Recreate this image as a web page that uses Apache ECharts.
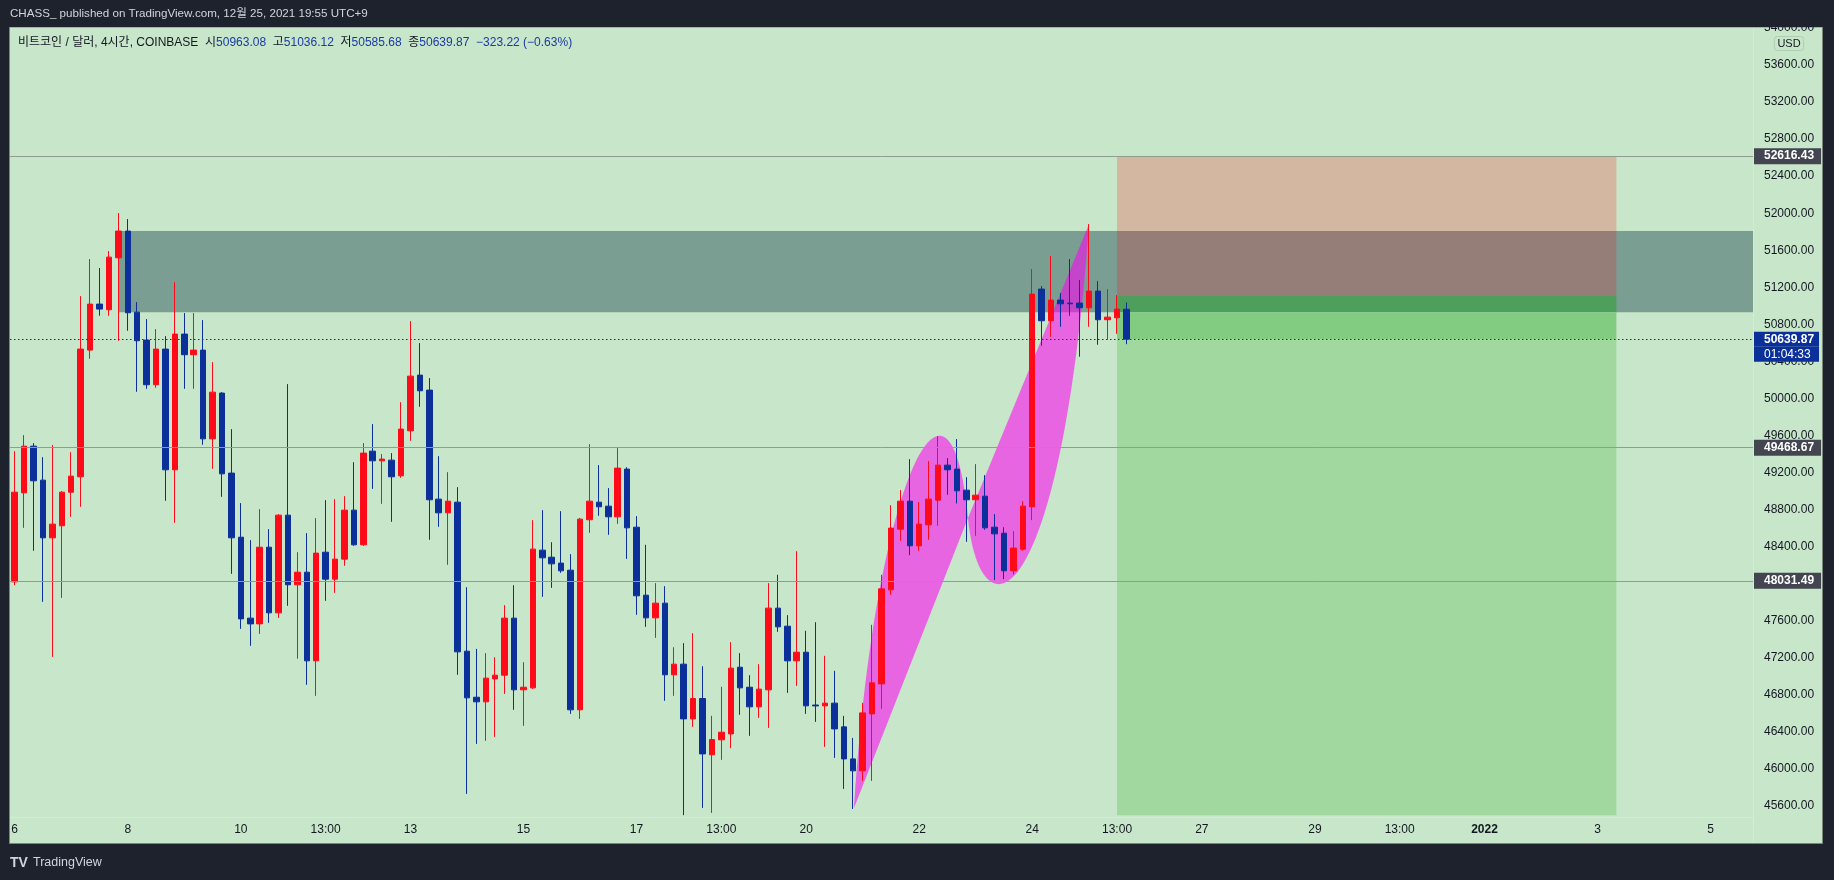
<!DOCTYPE html>
<html><head><meta charset="utf-8">
<script src="https://cdn.jsdelivr.net/npm/echarts@6/dist/echarts.min.js"></script>
<style>html,body{margin:0;padding:0;background:#1e222d;overflow:hidden}#c{width:1834px;height:880px}</style>
</head><body><div id="c"></div>
<script>
// ---- 4h candles, Dec 6 01:00 ... Dec 25 17:00 (UTC+9) ----
const opens = [48020,48981,49485,49118,48495,48625,48988,49154,50522,51019,
50958,51519,51807,50932,50630,50148,50533,49230,50695,50472,
50522,49564,50058,49194,48502,47628,47566,48394,47685,48740,
47988,48124,47167,48340,48049,48265,48794,48420,49431,49327,
49334,49165,49651,50252,50090,48913,48765,48880,47271,46774,
46724,46972,47012,47628,46854,46875,48362,48286,48222,48146,
46638,48690,48880,48837,48722,49237,48610,47876,47631,47790,
47016,47131,46540,46760,46152,46314,46378,47098,46882,46670,
46854,47736,47541,47167,47260,46690,46681,46710,46454,46108,
45979,46594,46918,47934,48589,48891,48409,48636,48902,49280,
49237,49010,48906,48945,48610,48545,48139,48373,48830,51181,
50839,51062,51030,51030,50979,51159,50850,50871,50963.08];
const highs = [49431,49604,49518,49366,49496,48999,49420,51105,51505,51408,
51591,52002,51937,51040,50857,50749,50673,51256,50922,50922,
50846,50392,50068,49669,48870,48470,48805,48589,48751,50155,
48340,48546,48708,48902,48913,48945,49312,49518,49723,49399,
49410,49960,50835,50598,50220,49377,49204,49042,47962,47296,
47250,47206,47768,47984,47152,48686,48794,48448,48783,48319,
48710,49507,49280,49032,49464,49258,48729,48420,48006,47973,
47314,47358,47466,47109,46573,46886,47368,47250,47012,47131,
48006,48096,47660,48351,47491,47584,47221,47059,46573,46335,
46713,47556,48096,48848,49010,49345,48880,49323,49593,49356,
49561,49150,49291,49172,48751,48610,48567,48891,51397,51213,
51537,51138,51505,51278,51883,51267,51181,51116,51036.12];
const lows = [47984,48603,48355,47804,47210,47847,48722,48830,50428,50893,
50893,50623,50731,50072,50104,50115,48895,48657,50104,50104,
49500,49240,48938,48106,47512,47329,47458,47577,47631,47761,
47190,46908,46789,47815,47901,48193,48409,48409,49024,48862,
48668,49143,49543,49910,48474,48614,48204,47016,45730,46270,
46303,46346,46810,46638,46465,46864,47858,47955,48117,46594,
46540,48549,48733,48528,48646,48268,47664,47534,47415,46735,
46789,45500,46454,45579,45525,46098,46224,46584,46357,46551,
46443,47480,46821,46897,46594,46508,46238,46119,45784,45568,
45871,45871,46648,47880,48463,48308,48355,48474,48625,48960,
48866,48452,48517,48582,48038,48049,48100,48355,48686,50569,
50666,50774,50893,50451,50774,50580,50637,50698,50585.68];
const closes = [48988,49485,49111,48495,48643,48988,49161,50533,51019,50965,
51526,51807,50925,50623,50148,50533,49230,50695,50472,50522,
49564,50068,49186,48495,47620,47566,48394,47685,48740,47988,
48124,47167,48330,48049,48265,48794,48420,49410,49327,49345,
49154,49669,50241,50083,48906,48765,48891,47264,46767,46724,
46980,47012,47628,46854,46882,48373,48279,48214,48139,46638,
48697,48891,48830,48722,49248,48603,47869,47631,47790,47016,
47131,46540,46760,46162,46317,46396,47088,46875,46670,46861,
47736,47534,47167,47260,46681,46680,46710,46432,46108,45979,
46605,46929,47944,48600,48891,48409,48643,48913,49280,49230,
49003,48906,48956,48603,48538,48139,48384,48837,51127,50839,
51062,51022,51022,50979,51159,50850,50878,50965,50639.87];

const slotCount = 185;            // 4h slots shown on the time scale (incl. future)
const xTickIdx  = [0,12,24,33,42,54,66,75,84,96,108,117,126,138,147,156,168,180];
const xTickText = ['6','8','10','13:00','13','15','17','13:00','20','22','24','13:00','27','29','13:00','2022','3','5'];
const yTickStep = 400;

const levels = [52616.43, 49468.67, 48031.49];
const lastPrice = 50639.87;
const countdown = '01:04:33';
const changeText = '\u2212323.22 (\u22120.63%)';

// drawings (bar index, price)
const zoneBox = [11, 184.5, 51807, 50930];
const posFrom = 117, posTo = 170, posStop = 52616.43, posEntry = 51113, posTarget = 45500;
const arcA = [[89.07,45576],[91.31,49118],[99.27,50738],[101.18,48708]];
const arcB = [[101.18,48708],[102.45,47390],[110.95,47606],[114.03,51883]];

// ---- styles ----
const RED = '#ff0a18', BLUE = '#0c3099';
const FONT = "'Liberation Sans','Noto Sans CJK KR',sans-serif";

const cats = Array.from({length: slotCount}, (_, i) => String(i));
const candles = opens.map((o, i) => [o, closes[i], lows[i], highs[i]]);
const rects = [
  zoneBox,
  [posFrom, posTo, posStop, zoneBox[2]],
  [posFrom, posTo, zoneBox[2], posEntry],
  [posFrom, posTo, posEntry, zoneBox[3]],
  [posFrom, posTo, zoneBox[3], lastPrice],
  [posFrom, posTo, lastPrice, posTarget]
];
const rectColors = ['#7a9e92', '#d3b7a0', '#947e77', '#4e9e5c', '#82cc82', '#a0d8a0'];
const arcs = [arcA, arcB];

const chart = echarts.init(document.getElementById('c'), null, {renderer: 'canvas'});
const lvlLabel = {
  show: true, position: 'end', distance: 1, formatter: p => Number(p.value).toFixed(2),
  backgroundColor: '#434651', color: '#ffffff', fontWeight: 'bold', fontSize: 12,
  fontFamily: FONT, padding: [2, 7, 2, 10], lineHeight: 12
};
chart.setOption({
  animation: false,
  backgroundColor: '#1e222d',
  textStyle: {fontFamily: FONT},
  grid: {left: 10, right: 81, top: 28, bottom: 37, containLabel: false, outerBoundsMode: 'none'},
  xAxis: [{
    type: 'category', data: cats, boundaryGap: true, offset: -26,
    axisLine: {show: false}, axisTick: {show: false}, splitLine: {show: false},
    axisLabel: {
      interval: (i) => xTickIdx.indexOf(i) >= 0,
      formatter: (v, i) => { const k = xTickIdx.indexOf(Number(v)); const t = k >= 0 ? xTickText[k] : ''; return t === '2022' ? '{b|2022}' : t; },
      margin: 7, color: '#131722', fontSize: 12, fontFamily: FONT,
      rich: {b: {fontWeight: 'bold', fontSize: 12, color: '#131722', fontFamily: FONT}}
    }
  }, {
    type: 'value', min: -0.5, max: slotCount - 0.5, show: false
  }],
  yAxis: [{
    type: 'value', position: 'right', min: 45200, max: 54000, interval: yTickStep,
    axisLine: {show: false}, axisTick: {show: false}, splitLine: {show: false},
    axisLabel: {margin: 11, color: '#131722', fontSize: 12, fontFamily: FONT, hideOverlap: false,
      showMinLabel: true, showMaxLabel: true,
      formatter: v => (v < 45500 ? '' : v.toFixed(2))}
  }],
  graphic: [
    {type: 'rect', silent: true, z: -100, shape: {x: 9.5, y: 27, width: 1813, height: 816.5},
      style: {fill: '#c8e6c9', stroke: '#7a857b', lineWidth: 1}},
    {type: 'line', silent: true, z: -90, shape: {x1: 10, y1: 817.5, x2: 1753, y2: 817.5}, style: {stroke: '#d3ecd4', lineWidth: 1}},
    {type: 'line', silent: true, z: -90, shape: {x1: 1753.5, y1: 28, x2: 1753.5, y2: 843}, style: {stroke: '#d3ecd4', lineWidth: 1}},
    {type: 'rect', silent: true, z: 100, shape: {x: 0, y: 0, width: 1834, height: 27}, style: {fill: '#1e222d'}},
    {type: 'text', silent: true, z: 101, style: {x: 10, y: 14, text: 'CHASS_ published on TradingView.com, 12월 25, 2021 19:55 UTC+9',
      fill: '#d1d4dc', fontSize: 11.6, fontFamily: FONT, verticalAlign: 'middle'}},
    {type: 'text', silent: true, z: 101, style: {x: 18, y: 43, verticalAlign: 'middle',
      text: '{d|비트코인 / 달러, 4시간, COINBASE}  {d|시}{v|' + opens[118].toFixed(2) + '}  {d|고}{v|' + highs[118].toFixed(2) +
            '}  {d|저}{v|' + lows[118].toFixed(2) + '}  {d|종}{v|' + closes[118].toFixed(2) + '}  {v|' + changeText + '}',
      fontSize: 12, fontFamily: FONT,
      rich: {d: {fill: '#131722', fontSize: 12, fontFamily: FONT}, v: {fill: '#1a3aa6', fontSize: 12, fontFamily: FONT}}}},
    {type: 'text', silent: true, z: 101, style: {x: 1789, y: 43.5, text: 'USD', align: 'center', verticalAlign: 'middle',
      fill: '#131722', fontSize: 11, fontFamily: FONT, borderColor: '#afcdb0', borderWidth: 1, borderRadius: 3, padding: [2, 3, 1, 3]}},
    {type: 'text', silent: true, z: 101, style: {x: 10, y: 863, text: 'TV', fill: '#d1d4dc', fontSize: 14, fontWeight: 'bold',
      fontFamily: FONT, verticalAlign: 'middle'}},
    {type: 'text', silent: true, z: 101, style: {x: 33, y: 863, text: 'TradingView', fill: '#d1d4dc', fontSize: 12.5,
      fontFamily: FONT, verticalAlign: 'middle'}}
  ],
  series: [
    {
      type: 'custom', name: 'zones', xAxisIndex: 1, yAxisIndex: 0, z: 1, silent: true, clip: true,
      data: rects,
      renderItem: (params, api) => {
        const a = api.coord([api.value(0), api.value(2)]);
        const b = api.coord([api.value(1), api.value(3)]);
        const cs = params.coordSys;
        const shape = echarts.graphic.clipRectByRect(
          {x: a[0], y: a[1], width: b[0] - a[0], height: b[1] - a[1]},
          {x: cs.x, y: cs.y, width: cs.width, height: cs.height});
        return shape && {type: 'rect', shape: shape, style: {fill: rectColors[params.dataIndex]}};
      }
    },
    {
      type: 'custom', name: 'pattern', xAxisIndex: 1, yAxisIndex: 0, z: 2, silent: true,
      data: [0, 1],
      renderItem: (params, api) => {
        const p = arcs[params.dataIndex].map(q => api.coord(q));
        const d = 'M' + p[0][0] + ' ' + p[0][1] + ' C' + p[1][0] + ' ' + p[1][1] + ' ' + p[2][0] + ' ' + p[2][1] + ' ' +
                  p[3][0] + ' ' + p[3][1] + ' L' + p[0][0] + ' ' + p[0][1] + ' Z';
        return {type: 'path', shape: {pathData: d}, style: {fill: 'rgba(255,0,245,0.56)'}};
      }
    },
    {
      type: 'line', name: 'levels', xAxisIndex: 0, yAxisIndex: 0, z: 3, data: [], silent: true,
      markLine: {
        silent: true, symbol: ['none', 'none'], animation: false,
        data: levels.map(v => ({yAxis: v, lineStyle: {color: '#8f9d90', width: 1, type: 'solid'}, label: lvlLabel})).concat([{
          yAxis: lastPrice,
          lineStyle: {color: BLUE, width: 1, type: [1.5, 2.5]},
          label: {
            show: true, position: 'end', distance: 1,
            formatter: '{s| }\n{p|' + lastPrice.toFixed(2) + '}\n{t|' + countdown + '}',
            rich: {
              s: {lineHeight: 15, height: 15, fontSize: 12, color: 'rgba(0,0,0,0)'},
              p: {lineHeight: 15, height: 15, width: 48, padding: [0, 7, 0, 10], backgroundColor: BLUE, color: '#ffffff',
                  fontWeight: 'bold', fontSize: 12, fontFamily: FONT},
              t: {lineHeight: 15, height: 15, width: 48, padding: [0, 7, 0, 10], backgroundColor: BLUE, color: '#ffffff',
                  fontSize: 12, fontFamily: FONT}
            }
          }
        }])
      }
    },
    {
      type: 'candlestick', name: 'BTCUSD', xAxisIndex: 0, yAxisIndex: 0, z: 4, barWidth: 6, silent: true,
      data: candles,
      itemStyle: {color: RED, color0: BLUE, borderColor: RED, borderColor0: BLUE, borderWidth: 1}
    }
  ]
});
</script>
</body></html>
